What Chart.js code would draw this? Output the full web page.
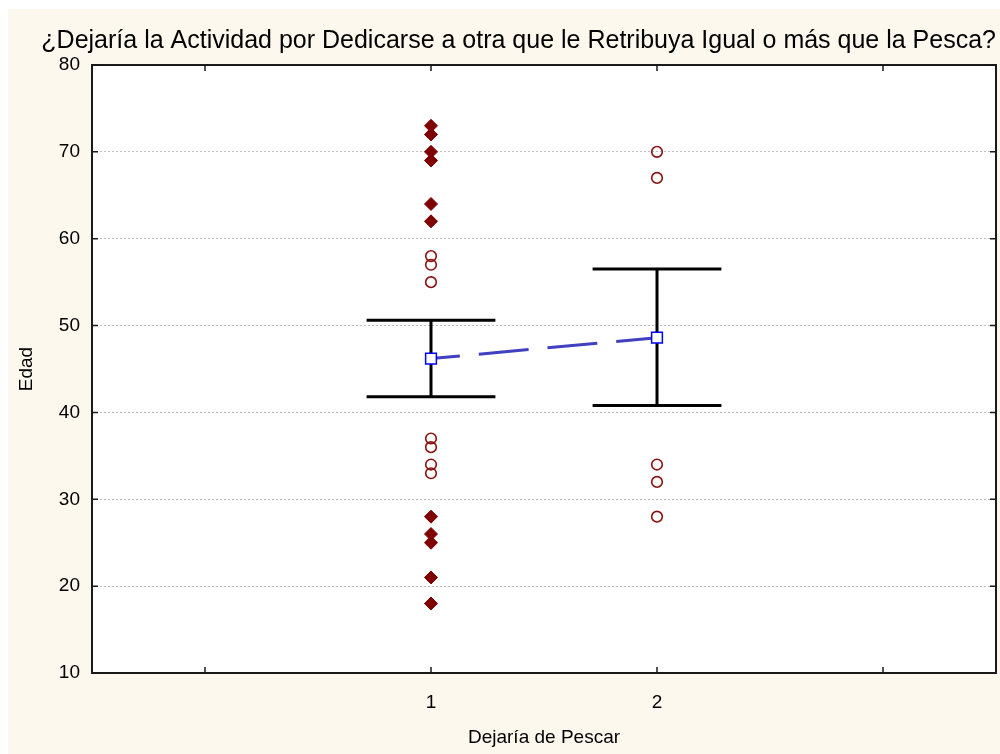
<!DOCTYPE html>
<html>
<head>
<meta charset="utf-8">
<title>Edad por Dejaría de Pescar</title>
<script src="https://cdn.jsdelivr.net/npm/chart.js@4.4.1/dist/chart.umd.min.js"></script>
<style>
  html, body { margin: 0; padding: 0; background: #fff; }
  #wrap { width: 1000px; height: 754px; }
</style>
</head>
<body>
<div id="wrap"><canvas id="chart" width="1000" height="754"></canvas></div>
<script>
// categories (x positions) and values
const groups = [1, 2];
const xTickValues = [0, 1, 2, 3];
const xTickLabels = ['', '1', '2', ''];
const yTickValues = [10, 20, 30, 40, 50, 60, 70, 80];

// individual ages, group 1 (filled diamonds / open circles) and group 2 (open circles)
const filledAges1 = [73, 72, 70, 69, 64, 62, 28, 26, 25, 21, 18];
const openAges1 = [58, 57, 55, 37, 36, 34, 33];
const openAges2 = [70, 67, 34, 32, 28];

// means and error bar limits
const means = [46.2, 48.6];
const upper = [50.6, 56.5];
const lower = [41.8, 40.8];

const capHalf = 0.285;
const cream = '#fdf8ee';
const darkRed = '#800000';

Chart.defaults.font.family = '"Liberation Sans", Arial, sans-serif';
Chart.defaults.color = '#000';

// error bars as one broken line: stem, top cap, bottom cap per group
let errorPts = [];
groups.forEach((g, i) => {
  errorPts.push({x: g, y: lower[i]}, {x: g, y: upper[i]}, {x: g, y: null});
  errorPts.push({x: g - capHalf, y: upper[i]}, {x: g + capHalf, y: upper[i]}, {x: g, y: null});
  errorPts.push({x: g - capHalf, y: lower[i]}, {x: g + capHalf, y: lower[i]}, {x: g, y: null});
});

let background = {
  id: 'background',
  beforeDraw(chart) {
    let {ctx, chartArea: a} = chart;
    ctx.save();
    ctx.fillStyle = '#fff';
    ctx.fillRect(0, 0, chart.width, chart.height);
    ctx.fillStyle = cream;
    ctx.fillRect(8, 9, chart.width - 8, chart.height - 9);
    ctx.fillStyle = '#fff';
    ctx.fillRect(a.left, a.top, a.right - a.left, a.bottom - a.top);
    ctx.restore();
  }
};

let frame = {
  id: 'frame',
  beforeDatasetsDraw(chart) {
    let {ctx, chartArea: a, scales: {x, y}} = chart;
    ctx.save();
    ctx.strokeStyle = '#1a1a1a';
    ctx.lineWidth = 2;
    ctx.strokeRect(a.left, a.top, a.right - a.left, a.bottom - a.top);
    ctx.lineWidth = 1.5;
    ctx.beginPath();
    xTickValues.forEach(v => {
      let px = x.getPixelForValue(v);
      ctx.moveTo(px, a.bottom); ctx.lineTo(px, a.bottom - 6);
      ctx.moveTo(px, a.top); ctx.lineTo(px, a.top + 6);
    });
    yTickValues.forEach(v => {
      let py = y.getPixelForValue(v);
      ctx.moveTo(a.left, py); ctx.lineTo(a.left + 6, py);
      ctx.moveTo(a.right, py); ctx.lineTo(a.right - 6, py);
    });
    ctx.stroke();
    ctx.restore();
  }
};

new Chart(document.getElementById('chart').getContext('2d'), {
  type: 'scatter',
  data: {
    datasets: [
      {
        label: 'Media',
        data: groups.map((g, i) => ({x: g, y: means[i]})),
        showLine: true,
        borderColor: '#4040c0',
        borderWidth: 3,
        borderDash: [50, 19],
        borderDashOffset: 21,
        pointStyle: 'rect',
        pointRadius: 7.6,
        pointBackgroundColor: '#fff',
        pointBorderColor: '#0000ff',
        pointBorderWidth: 1.5,
        order: 0
      },
      {
        label: 'Error',
        data: errorPts,
        showLine: true,
        spanGaps: false,
        borderColor: '#000',
        borderWidth: 3,
        pointRadius: 0,
        order: 1
      },
      {
        label: 'Filled',
        data: filledAges1.map(v => ({x: 1, y: v})),
        pointStyle: 'rectRot',
        pointRadius: 6.5,
        backgroundColor: darkRed,
        borderColor: darkRed,
        borderWidth: 1,
        order: 2
      },
      {
        label: 'Open',
        data: openAges1.map(v => ({x: 1, y: v})).concat(openAges2.map(v => ({x: 2, y: v}))),
        pointStyle: 'circle',
        pointRadius: 5.3,
        backgroundColor: 'rgba(0,0,0,0)',
        borderColor: '#8b1010',
        borderWidth: 1.6,
        order: 2
      }
    ]
  },
  options: {
    responsive: false,
    animation: false,
    layout: { autoPadding: false, padding: { left: 0, right: 4, top: 0, bottom: 0 } },
    plugins: {
      legend: { display: false },
      tooltip: { enabled: false },
      title: {
        display: true,
        text: '¿Dejaría la Actividad por Dedicarse a otra que le Retribuya Igual o más que la Pesca?',
        align: 'end',
        color: '#000',
        font: { size: 25, weight: 'normal' },
        padding: { top: 26, bottom: 9 }
      }
    },
    scales: {
      x: {
        type: 'linear',
        min: -0.5,
        max: 3.5,
        afterBuildTicks: s => { s.ticks = xTickValues.map(v => ({value: v})); },
        afterFit: s => { s.height = 81; },
        ticks: {
          autoSkip: false,
          maxRotation: 0,
          padding: 18,
          font: { size: 19 },
          callback: (v) => xTickLabels[xTickValues.indexOf(v)] || ''
        },
        grid: { display: false, drawTicks: false },
        border: { display: false },
        title: {
          display: true,
          text: 'Dejaría de Pescar',
          font: { size: 19 },
          padding: { top: 0, bottom: 5 }
        }
      },
      y: {
        min: 10,
        max: 80,
        afterBuildTicks: s => { s.ticks = yTickValues.map(v => ({value: v})); },
        afterFit: s => { s.width = 92; },
        ticks: { padding: 12, font: { size: 19 } },
        grid: { color: '#bdbdbd', lineWidth: 1, drawTicks: false },
        border: { display: false, dash: [2, 2] },
        title: {
          display: true,
          text: 'Edad',
          font: { size: 19 },
          padding: { top: 15.6, bottom: 0 }
        }
      }
    }
  },
  plugins: [background, frame]
});
</script>
</body>
</html>
